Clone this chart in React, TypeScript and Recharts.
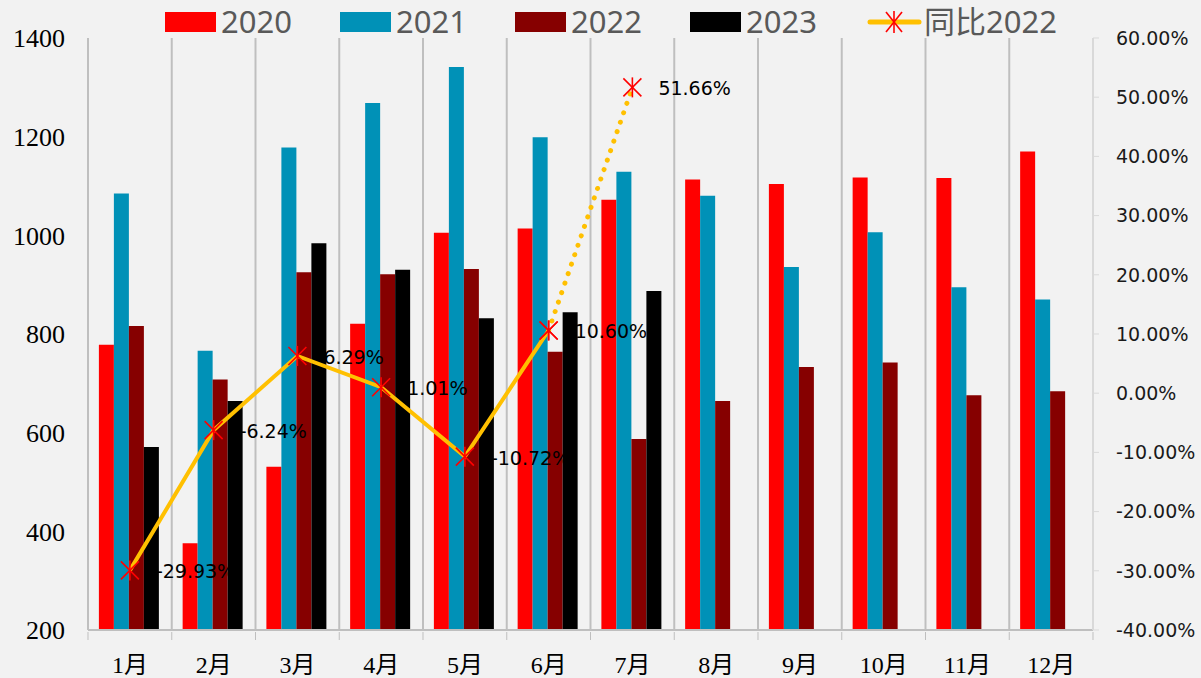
import { ComposedChart, Bar, Line, XAxis, YAxis, CartesianGrid, Legend, LabelList } from "recharts";

const months = ["1月", "2月", "3月", "4月", "5月", "6月", "7月", "8月", "9月", "10月", "11月", "12月"];
const sales2020 = [778, 376, 531, 821, 1005, 1014, 1072, 1113, 1104, 1117, 1116, 1170];
const sales2021 = [1085, 766, 1178, 1268, 1341, 1199, 1129, 1080, 936, 1006, 895, 870];
const sales2022 = [816, 708, 925, 921, 932, 764, 587, 664, 733, 742, 676, 684];
const sales2023 = [571, 664, 984, 930, 832, 844, 887];
const yoy2022 = [-29.93, -6.24, 6.29, 1.01, -10.72, 10.6, 51.66];
const leftTicks = [200, 400, 600, 800, 1000, 1200, 1400];
const rightTicks = [-40, -30, -20, -10, 0, 10, 20, 30, 40, 50, 60];

// last solid point; the segment after it is drawn dotted
const SOLID_END = 5;

const W = 1201;
const H = 678;
const LEFT_W = 88;
const RIGHT_W = 108;
const PLOT_W = W - LEFT_W - RIGHT_W;
const BAND = PLOT_W / months.length;

const data = months.map((m, i) => ({
  month: m,
  s2020: sales2020[i],
  s2021: sales2021[i],
  s2022: sales2022[i],
  s2023: sales2023[i] ?? null,
  yoySolid: i <= SOLID_END && i < yoy2022.length ? yoy2022[i] : null,
  yoyDotted: i >= SOLID_END && i < yoy2022.length ? yoy2022[i] : null,
}));

const colors = { s2020: "#FF0000", s2021: "#0091B7", s2022: "#860000", s2023: "#000000" };
const GOLD = "#FFC000";
const GRID = "#bfbfbf";

function Star({ cx, cy, w = 9, h = 9 }: any) {
  return (
    <g stroke="#FF0000" strokeWidth={1.6}>
      <line x1={cx - w} y1={cy - h} x2={cx + w} y2={cy + h} />
      <line x1={cx - w} y1={cy + h} x2={cx + w} y2={cy - h} />
      <line x1={cx} y1={cy - h - 1} x2={cx} y2={cy + h + 1} />
    </g>
  );
}

const renderDot = (props: any) => {
  const { cx, cy, index, value } = props;
  if (value == null || cy == null) return <g key={`d${index}`} />;
  return <Star key={`d${index}`} cx={cx} cy={cy} />;
};

const makeLabel = (skip: number[]) => (props: any) => {
  const { x, y, value, index } = props;
  if (value == null || skip.includes(index)) return null;
  return (
    <text x={x + 26} y={y + 8} fontFamily="DejaVu Sans" fontSize={19} fill="#000">
      {`${Number(value).toFixed(2)}%`}
    </text>
  );
};

function MonthTick({ x, y, payload, index }: any) {
  const bx = x - BAND / 2;
  return (
    <g>
      <line x1={bx} x2={bx} y1={y} y2={y + 8} stroke={GRID} />
      {index === months.length - 1 && <line x1={x + BAND / 2} x2={x + BAND / 2} y1={y} y2={y + 8} stroke={GRID} />}
      <text x={x} y={y + 41} textAnchor="middle" fontFamily="'Liberation Serif', 'Noto Sans CJK SC'" fontSize={24} fill="#000">
        {payload.value}
      </text>
    </g>
  );
}

function renderLegend() {
  const items = [
    { key: "s2020", label: "2020", x: 165 },
    { key: "s2021", label: "2021", x: 340 },
    { key: "s2022", label: "2022", x: 515 },
    { key: "s2023", label: "2023", x: 690 },
  ];
  const font = "'Noto Sans', 'Noto Sans CJK SC'";
  return (
    <svg width={W} height={38} style={{ display: "block", overflow: "visible" }}>
      {items.map((it) => (
        <g key={it.key}>
          <rect x={it.x} y={12} width={51} height={20} fill={(colors as any)[it.key]} />
          <text x={it.x + 56} y={33} fontFamily={font} fontSize={31} fill="#595959">{it.label}</text>
        </g>
      ))}
      <line x1={870} x2={919} y1={22} y2={22} stroke={GOLD} strokeWidth={5} strokeLinecap="round" />
      <Star cx={894} cy={22} w={8} h={10} />
      <text x={924} y={33} fontFamily={font} fontSize={31} fill="#595959">同比2022</text>
    </svg>
  );
}

export default function App() {
  return (
    <div style={{ position: "absolute", left: 0, top: 0, width: W, height: H, background: "#f2f2f2" }}>
      <ComposedChart
        width={W}
        height={H}
        data={data}
        margin={{ top: 0, right: 0, bottom: 0, left: 0 }}
        barCategoryGap="13%"
        barGap={0}
      >
        <CartesianGrid
          horizontal={false}
          stroke={GRID}
          strokeWidth={2}
          verticalCoordinatesGenerator={({ offset }: any) =>
            months.map((_, i) => offset.left + (i * offset.width) / months.length).concat(offset.left + offset.width)
          }
        />
        <Legend verticalAlign="top" height={38} wrapperStyle={{ top: 0, left: 0, overflow: "visible" }} content={renderLegend} />
        <XAxis
          dataKey="month"
          height={48}
          interval={0}
          tickLine={false}
          tickSize={0}
          axisLine={{ stroke: GRID, strokeWidth: 2 }}
          tick={<MonthTick />}
        />
        <YAxis
          yAxisId="left"
          width={LEFT_W}
          domain={[200, 1400]}
          ticks={leftTicks}
          tickLine={false}
          tickSize={0}
          tickMargin={23}
          axisLine={{ stroke: GRID, strokeWidth: 2 }}
          tick={{ fontFamily: "Liberation Serif", fontSize: 26, fill: "#000" }}
          allowDataOverflow
        />
        <YAxis
          yAxisId="right"
          orientation="right"
          width={RIGHT_W}
          domain={[-40, 60]}
          ticks={rightTicks}
          tickSize={6}
          tickMargin={17}
          axisLine={{ stroke: "#d9d9d9", strokeWidth: 2 }}
          tickLine={{ stroke: "#d9d9d9" }}
          tickFormatter={(v: number) => `${v.toFixed(2)}%`}
          tick={{ fontFamily: "DejaVu Sans", fontSize: 19, fill: "#1a1a1a" }}
        />
        <Bar yAxisId="left" dataKey="s2020" fill={colors.s2020} isAnimationActive={false} />
        <Bar yAxisId="left" dataKey="s2021" fill={colors.s2021} isAnimationActive={false} />
        <Bar yAxisId="left" dataKey="s2022" fill={colors.s2022} isAnimationActive={false} />
        <Bar yAxisId="left" dataKey="s2023" fill={colors.s2023} isAnimationActive={false} />
        <Line
          yAxisId="right"
          dataKey="yoyDotted"
          stroke={GOLD}
          strokeWidth={5}
          strokeDasharray="0.01 10"
          strokeLinecap="round"
          dot={renderDot}
          activeDot={false}
          isAnimationActive={false}
        >
          <LabelList dataKey="yoyDotted" content={makeLabel([SOLID_END])} />
        </Line>
        <Line
          yAxisId="right"
          dataKey="yoySolid"
          stroke={GOLD}
          strokeWidth={4}
          dot={renderDot}
          activeDot={false}
          isAnimationActive={false}
        >
          <LabelList dataKey="yoySolid" content={makeLabel([])} />
        </Line>
      </ComposedChart>
    </div>
  );
}
